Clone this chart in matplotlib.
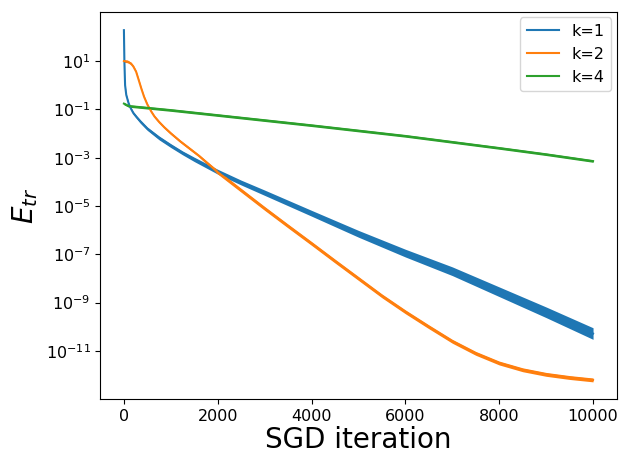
import numpy as np
import matplotlib
matplotlib.use('Agg')
import matplotlib.pyplot as plt

# y values are log10(E_tr)
k1_x = [0, 10, 25, 50, 100, 150, 200, 275, 350, 500, 750, 1000, 1250, 1500, 2000, 2500, 3000, 4000, 5000, 6000, 7000, 8000, 9000, 10000]
k1_log = [2.28, 1.0, 0.0, -0.4, -0.75, -0.97, -1.15, -1.33, -1.5, -1.8, -2.18, -2.5, -2.8, -3.07, -3.58, -4.03, -4.45, -5.3, -6.15, -6.95, -7.7, -8.55, -9.4, -10.28]
k1_spread = [0.03, 0.03, 0.03, 0.04, 0.05, 0.05, 0.06, 0.06, 0.07, 0.07, 0.08, 0.08, 0.08, 0.09, 0.1, 0.1, 0.11, 0.12, 0.14, 0.16, 0.18, 0.2, 0.22, 0.24]

k2_x = [0, 80, 150, 200, 260, 310, 370, 430, 500, 580, 650, 750, 860, 1000, 1200, 1400, 1600, 2000, 2500, 3000, 3500, 4000, 4500, 5000, 5500, 6000, 6500, 7000, 7500, 8000, 8500, 9000, 9500, 10000]
k2_log = [1.0, 0.98, 0.9, 0.78, 0.56, 0.25, -0.13, -0.48, -0.8, -1.08, -1.29, -1.52, -1.74, -1.99, -2.32, -2.62, -2.92, -3.6, -4.35, -5.1, -5.83, -6.55, -7.28, -8.0, -8.72, -9.38, -10.0, -10.6, -11.1, -11.5, -11.78, -11.97, -12.1, -12.2]
k2_spread = [0.05] * 17 + [0.08] * 17

k4_x = [0, 100, 1000, 2000, 3000, 4000, 5000, 6000, 7000, 8000, 9000, 10000]
k4_log = [-0.76, -0.86, -1.03, -1.24, -1.45, -1.66, -1.88, -2.1, -2.35, -2.6, -2.86, -3.14]
k4_spread = [0.05] * 12

y_ticks = [1e1, 1e-1, 1e-3, 1e-5, 1e-7, 1e-9, 1e-11]

series = [('k=1', '#1f77b4', k1_x, k1_log, k1_spread),
          ('k=2', '#ff7f0e', k2_x, k2_log, k2_spread),
          ('k=4', '#2ca02c', k4_x, k4_log, k4_spread)]

fig, ax = plt.subplots(figsize=(6.24, 4.55), dpi=100)
fig.subplots_adjust(left=0.161, right=0.988, top=0.974, bottom=0.122)

for label, color, xs, logs, spread in series:
    xs = np.array(xs)
    logs = np.array(logs)
    spread = np.array(spread)
    ax.fill_between(xs, 10 ** (logs - spread), 10 ** (logs + spread), color=color, lw=0)
    ax.plot(xs, 10 ** logs, color=color, lw=1.5, label=label)

ax.set_yscale('log')
ax.set_yticks(y_ticks)
ax.minorticks_off()
ax.tick_params(labelsize=11.5)
ax.set_xlabel('SGD iteration', fontsize=20, labelpad=1)
ax.set_ylabel('$E_{tr}$', fontsize=20)
ax.legend(loc='upper right', fontsize=11.5, borderaxespad=0.35)
fig.savefig('out.png', dpi=100)
